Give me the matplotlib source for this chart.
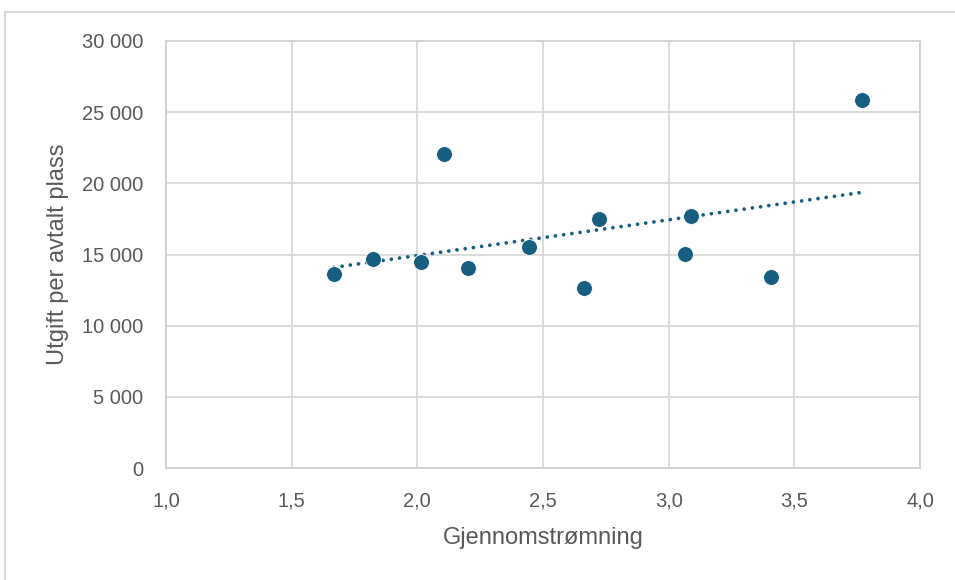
import matplotlib
matplotlib.use("Agg")
import matplotlib.pyplot as plt
import numpy as np
from matplotlib.ticker import FuncFormatter, MultipleLocator
from matplotlib.patches import Rectangle

# Data
gjennomstromning = [1.668, 1.824, 2.015, 2.106, 2.202, 2.444, 2.663, 2.723, 3.065, 3.089, 3.407, 3.770]
utgift = [13630, 14690, 14480, 22070, 14060, 15530, 12650, 17500, 15040, 17710, 13420, 25860]

x_label = "Gjennomstrømning"
y_label = "Utgift per avtalt plass"

plt.rcParams['font.family'] = ['Liberation Sans', 'DejaVu Sans']

fig = plt.figure(figsize=(9.55, 5.8), dpi=100)
fig.patches.append(Rectangle((5/955, -0.1), 1.2, (580-11.5)/580 + 0.1, transform=fig.transFigure,
                             fill=False, edgecolor='#d9d9d9', linewidth=1.5))

ax = fig.add_axes([166/955, (580-468)/580, (920-166)/955, (468-41)/580])

color = '#175E80'
x = np.array(gjennomstromning)
y = np.array(utgift)
ax.scatter(x, y, s=130, color=color, edgecolors='white', linewidths=0.6, zorder=3)

m, b = np.polyfit(x, y, 1)
xs = np.array([x.min(), x.max()])
ax.plot(xs, m*xs + b, linestyle=(0, (0.01, 2.2)), color=color, linewidth=2.7, zorder=2,
        dash_capstyle='round')

ax.set_xlim(1.0, 4.0)
ax.set_ylim(0, 30000)
ax.xaxis.set_major_locator(MultipleLocator(0.5))
ax.yaxis.set_major_locator(MultipleLocator(5000))
ax.xaxis.set_major_formatter(FuncFormatter(lambda v, p: f"{v:.1f}".replace('.', ',')))
ax.yaxis.set_major_formatter(FuncFormatter(lambda v, p: f"{int(v):,}".replace(',', ' ')))

ax.grid(True, color='#d9d9d9', linewidth=1.3)
ax.set_axisbelow(True)
for s in ax.spines.values():
    s.set_color('#d0d0d0')
    s.set_linewidth(1.3)
ax.tick_params(length=0, labelsize=14.5, colors='#595959')
ax.tick_params(axis='y', pad=16.5)
ax.tick_params(axis='x', pad=17)

ax.set_xlabel(x_label, fontsize=17, color='#595959', labelpad=12)
ax.set_ylabel(y_label, fontsize=17, color='#595959', labelpad=9)

fig.savefig("out.png", dpi=100)
